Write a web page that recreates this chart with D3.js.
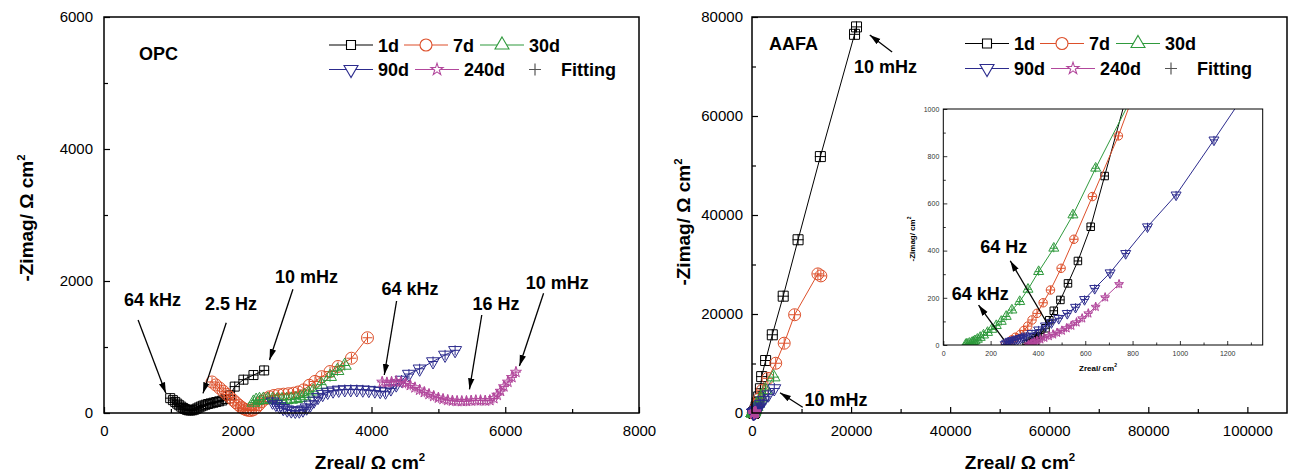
<!DOCTYPE html>
<html><head><meta charset="utf-8">
<script src="https://cdn.jsdelivr.net/npm/d3@7"></script>
<style>
body{margin:0;background:#fff}
svg text{font-family:"Liberation Sans",Arial,sans-serif}
</style></head><body>
<svg id="chart" width="1291" height="473"></svg>
<script>
// ---------- Nyquist data, [Zreal, -Zimag] in Ω·cm² ----------
// OPC
const opc1d = [[990,225],[1030,195],[1065,168],[1095,142],[1125,118],[1155,96],[1185,76],[1212,60],[1240,48],[1268,40],[1296,38],[1325,42],[1355,52],[1385,66],[1415,82],[1448,98],[1482,112],[1518,125],[1556,136],[1595,146],[1636,156],[1678,166],[1722,177],[1768,190],[1820,212],[1885,268],[1955,400],[2085,505],[2235,575],[2395,645]];
const opc7d = [[1615,470],[1672,425],[1728,378],[1782,330],[1835,283],[1885,238],[1932,195],[1975,155],[2015,120],[2052,90],[2088,66],[2122,50],[2158,40],[2195,38],[2232,48],[2272,78],[2315,125],[2362,175],[2415,215],[2475,245],[2540,265],[2610,278],[2685,285],[2760,292],[2835,300],[2905,318],[2985,350],[3070,420],[3155,478],[3255,550],[3380,628],[3500,705],[3700,830],[3940,1140]];
const opc30d = [[2235,160],[2275,188],[2325,200],[2385,205],[2450,205],[2520,200],[2590,197],[2660,197],[2730,200],[2800,206],[2870,215],[2935,232],[2995,258],[3060,292],[3130,330],[3250,430],[3380,550],[3490,640],[3600,720]];
const opc90d = [[2520,170],[2570,135],[2625,100],[2680,72],[2740,50],[2800,36],[2860,30],[2920,34],[2975,50],[3030,80],[3085,125],[3140,185],[3200,240],[3270,285],[3345,318],[3425,338],[3510,350],[3600,356],[3690,358],[3780,356],[3870,352],[3960,346],[4050,338],[4130,330],[4210,322],[4290,370],[4370,430],[4450,500],[4560,590],[4720,670],[4920,780],[5100,880],[5250,950]];
const opc240d = [[4160,470],[4230,460],[4300,470],[4370,480],[4440,470],[4510,450],[4580,420],[4650,385],[4720,350],[4790,315],[4860,285],[4930,255],[5000,230],[5070,210],[5140,195],[5210,185],[5280,180],[5350,178],[5420,180],[5490,185],[5560,190],[5630,190],[5700,185],[5770,192],[5830,222],[5880,272],[5930,332],[5980,400],[6040,470],[6100,540],[6160,620]];

// AAFA
const aafa1d = [[352,3],[360,8],[368,14],[378,20],[390,28],[400,38],[410,49],[432,71],[448,105],[467,145],[495,191],[527,261],[569,356],[623,501],[682,716],[830,1260],[1050,2050],[1350,3250],[1700,4900],[1950,7350],[2750,10600],[4100,15800],[6300,23600],[9300,35000],[13800,51800],[20700,76500],[21100,78000]];
const aafa7d = [[262,2],[275,10],[290,22],[305,33],[326,45],[340,61],[357,80],[375,106],[396,134],[422,179],[453,233],[498,325],[552,448],[630,629],[740,886],[1020,1650],[1450,2900],[2100,4600],[3200,7000],[4790,10050],[6500,14100],[8600,19850],[13300,28100],[13900,27700]];
const aafa30d = [[95,2],[100,4],[110,7],[120,10],[127,14],[134,18],[144,24],[156,32],[170,42],[187,53],[205,66],[224,82],[245,100],[266,121],[290,148],[323,184],[358,236],[403,311],[467,410],[548,551],[644,749],[900,1250],[1250,1950],[1800,3000],[2700,4650],[4350,7250]];
const aafa90d = [[262,2],[268,8],[275,12],[283,16],[293,19],[304,22],[315,25],[326,28],[338,33],[351,38],[375,49],[403,64],[432,81],[457,95],[488,113],[524,134],[559,160],[597,193],[640,240],[705,306],[771,388],[863,501],[984,636],[1144,869],[1400,1250],[1800,1800],[2400,2600],[3300,3700],[4500,4950]];
const aafa240d = [[360,2],[368,4],[375,7],[385,13],[396,18],[410,24],[427,31],[446,38],[464,45],[481,52],[501,61],[521,71],[541,82],[563,96],[587,113],[613,134],[644,162],[684,202],[743,258]];

const seriesNames  = ["1d","7d","30d","90d","240d"];
const seriesColors = ["#000000","#dd4f2a","#2f9a3d","#2c2b8d","#b2479c"];
const seriesShapes = ["square","circle","triangle","triangleDown","star"];
const opcSeries  = [opc1d, opc7d, opc30d, opc90d, opc240d];
const aafaSeries = [aafa1d, aafa7d, aafa30d, aafa90d, aafa240d];

// axis ticks
const opcMajor = [0,2000,4000,6000,8000];
const opcMinorX = [1000,3000,5000,7000];
const opcMajorY = [0,2000,4000,6000];
const opcMinorY = [1000,3000,5000];
const aafaMajorX = [0,20000,40000,60000,80000,100000];
const aafaMinorX = [10000,30000,50000,70000,90000];
const aafaMajorY = [0,20000,40000,60000,80000];
const aafaMinorY = [10000,30000,50000,70000];
const insetMajorX = [0,200,400,600,800,1000,1200];
const insetMinorX = [100,300,500,700,900,1100,1300];
const insetMajorY = [0,200,400,600,800,1000];
const insetMinorY = [100,300,500,700,900];

// frequency callouts: text anchor + arrow (tail -> head), in data units
const opcNotes = [
  {text:"64 kHz", at:[299,1614],  from:[510,1409],  to:[925,298]},
  {text:"2.5 Hz", at:[1510,1561], from:[1828,1368], to:[1480,298]},
  {text:"10 mHz", at:[2556,1967], from:[2825,1874], to:[2475,803]},
  {text:"64 kHz", at:[4148,1791], from:[4375,1697], to:[4191,576]},
  {text:"16 Hz",  at:[5510,1564], from:[5649,1485], to:[5465,359]},
  {text:"10 mHz", at:[6308,1876], from:[6573,1814], to:[6212,712]}
];
const aafaNotes = [
  {text:"10 mHz", at:[20606,68586], from:[28283,72929], to:[23778,76364]},
  {text:"10 mHz", at:[10606,1515],  from:[10242,1152],  to:[5657,4101]}
];
const insetNotes = [
  {text:"64 Hz",  at:[156,389], from:[439,92], to:[283,357]},
  {text:"64 kHz", at:[36,192],  from:[255,24], to:[149,169]}
];

// ---------- scales ----------
const opcX = d3.scaleLinear().domain([0,8000]).range([104,639]);
const opcY = d3.scaleLinear().domain([0,6000]).range([413,17]);
const aX = d3.scaleLinear().domain([0,108000]).range([752,1287]);
const aY = d3.scaleLinear().domain([0,80000]).range([413,17]);
const inX = d3.scaleLinear().domain([0,1350]).range([943.3,1262.7]);
const inY = d3.scaleLinear().domain([0,1000]).range([345,109]);

const svg = d3.select("#chart");
const defs = svg.append("defs");
defs.append("marker").attr("id","arrowhead").attr("markerUnits","userSpaceOnUse")
  .attr("markerWidth",11).attr("markerHeight",8).attr("refX",11).attr("refY",4)
  .attr("orient","auto")
  .append("path").attr("d","M0,0.8L11,4L0,7.2Z").attr("fill","#000");

function symbolPath(shape, s){
  if (shape==="square") return d3.symbol(d3.symbolSquare, s*s)();
  if (shape==="circle") return d3.symbol(d3.symbolCircle, Math.PI*s*s/4)();
  if (shape==="triangle" || shape==="triangleDown") return d3.symbol(d3.symbolTriangle, Math.sqrt(3)/4*s*s)();
  const r = s/1.9; return d3.symbol(d3.symbolStar, r*r/0.8908)();
}
function crossPath(s){ const h=s/2; return `M${-h},0H${h}M0,${-h}V${h}`; }

function drawSeries(g, data, xs, ys, color, shape, size, cross){
  const line = d3.line().x(d=>xs(d[0])).y(d=>ys(d[1]));
  g.append("path").attr("d", line(data)).attr("fill","none")
    .attr("stroke", color).attr("stroke-width",1);
  const p = symbolPath(shape, size);
  g.selectAll(null).data(data).join("path")
    .attr("transform", d=>`translate(${xs(d[0])},${ys(d[1])})${shape==="triangleDown"?" rotate(180)":""}`)
    .attr("d", p).attr("fill","none").attr("stroke", color).attr("stroke-width",1);
  // fitted impedance
  g.selectAll(null).data(data).join("path")
    .attr("transform", d=>`translate(${xs(d[0])},${ys(d[1])})`)
    .attr("d", crossPath(cross)).attr("fill","none").attr("stroke", color).attr("stroke-width",1);
}

function drawAxes(g, xs, ys, o){
  const y0 = ys.range()[0], x0 = xs.range()[0];
  const bx = g.append("g").attr("transform",`translate(0,${y0})`);
  bx.call(d3.axisBottom(xs).tickValues(o.xMajor).tickSizeInner(-o.major).tickSizeOuter(0)
      .tickPadding(o.xPad).tickFormat(d3.format("d")));
  bx.append("g").call(d3.axisBottom(xs).tickValues(o.xMinor).tickSizeInner(-o.minor).tickSizeOuter(0).tickFormat(""));
  const ly = g.append("g").attr("transform",`translate(${x0},0)`);
  ly.call(d3.axisLeft(ys).tickValues(o.yMajor).tickSizeInner(-o.major).tickSizeOuter(0)
      .tickPadding(o.yPad).tickFormat(d3.format("d")));
  ly.append("g").call(d3.axisLeft(ys).tickValues(o.yMinor).tickSizeInner(-o.minor).tickSizeOuter(0).tickFormat(""));
  g.selectAll(".domain").remove();
  g.selectAll(".tick line").attr("stroke","#000").attr("stroke-width",o.tickW);
  g.selectAll(".tick text").attr("font-size",o.font).attr("fill",o.color)
    .attr("font-family","Liberation Sans, Arial, sans-serif");
}

function frame(g, xs, ys, w){
  const [xa,xb]=xs.range(), [ya,yb]=ys.range();
  g.append("rect").attr("x",xa).attr("y",yb).attr("width",xb-xa).attr("height",ya-yb)
    .attr("fill","none").attr("stroke","#000").attr("stroke-width",w);
}

function notes(g, list, xs, ys, size){
  list.forEach(n=>{
    g.append("line").attr("x1",xs(n.from[0])).attr("y1",ys(n.from[1]))
      .attr("x2",xs(n.to[0])).attr("y2",ys(n.to[1]))
      .attr("stroke","#000").attr("stroke-width",1.3).attr("marker-end","url(#arrowhead)");
    g.append("text").attr("x",xs(n.at[0])).attr("y",ys(n.at[1]))
      .attr("font-size",size).attr("font-weight","bold").text(n.text);
  });
}

function legend(g, x0, r1, r2, sz){
  const rows = [[0,r1,0,0],[1,r1,75,0],[2,r1,151,0],[3,r2,0,0],[4,r2,86,0]];
  const msize = [9,12,14,14,12];
  rows.forEach(([i,y,dx])=>{
    const lx = x0+dx;
    g.append("line").attr("x1",lx).attr("x2",lx+44).attr("y1",y).attr("y2",y)
      .attr("stroke",seriesColors[i]).attr("stroke-width",1.2);
    g.append("path").attr("d",symbolPath(seriesShapes[i],msize[i]))
      .attr("transform",`translate(${lx+22},${y})${seriesShapes[i]==="triangleDown"?" rotate(180)":""}`)
      .attr("fill","#fff").attr("stroke",seriesColors[i]).attr("stroke-width",1.1);
    g.append("text").attr("x",lx+49).attr("y",y+6.5).attr("font-size",sz)
      .attr("font-weight","bold").text(seriesNames[i]);
  });
  g.append("path").attr("d",crossPath(12)).attr("transform",`translate(${x0+206},${r2})`)
    .attr("stroke","#555").attr("stroke-width",1.2).attr("fill","none");
  g.append("text").attr("x",x0+232).attr("y",r2+6.5).attr("font-size",sz)
    .attr("font-weight","bold").text("Fitting");
}

function xTitle(g, cx, y, sz){
  const t = g.append("text").attr("x",cx).attr("y",y).attr("text-anchor","middle")
    .attr("font-size",sz).attr("font-weight","bold");
  t.append("tspan").text("Zreal/ Ω cm");
  t.append("tspan").attr("dy",-8).attr("font-size",sz*0.6).text("2");
}
function yTitle(g, x, cy, sz){
  const t = g.append("text").attr("transform",`translate(${x},${cy}) rotate(-90)`)
    .attr("text-anchor","middle").attr("font-size",sz).attr("font-weight","bold");
  t.append("tspan").text("-Zimag/ Ω cm");
  t.append("tspan").attr("dy",-8).attr("font-size",sz*0.6).text("2");
}

// ---------- OPC panel ----------
const gL = svg.append("g");
drawAxes(gL, opcX, opcY, {xMajor:opcMajor, xMinor:opcMinorX, yMajor:opcMajorY, yMinor:opcMinorY,
  major:6, minor:4, xPad:12, yPad:11, font:15, color:"#000", tickW:1.2});
opcSeries.forEach((d,i)=>drawSeries(gL, d, opcX, opcY, seriesColors[i], seriesShapes[i],
  [9,12,13,13,11][i], 10));
frame(gL, opcX, opcY, 1.5);
gL.append("text").attr("x",opcX(523)).attr("y",opcY(5356)).attr("font-size",18)
  .attr("font-weight","bold").text("OPC");
notes(gL, opcNotes, opcX, opcY, 18);
legend(gL, 329, 45, 69.5, 18);
xTitle(gL, 370, 469, 19);
yTitle(gL, 32.5, 218, 19);

// ---------- AAFA panel ----------
const gR = svg.append("g");
drawAxes(gR, aX, aY, {xMajor:aafaMajorX, xMinor:aafaMinorX, yMajor:aafaMajorY, yMinor:aafaMinorY,
  major:6, minor:4, xPad:12, yPad:9, font:15, color:"#000", tickW:1.2});
aafaSeries.forEach((d,i)=>drawSeries(gR, d, aX, aY, seriesColors[i], seriesShapes[i],
  [10,12,13,13,11][i], 11));
frame(gR, aX, aY, 1.5);
gR.append("text").attr("x",aX(3434)).attr("y",aY(73374)).attr("font-size",18)
  .attr("font-weight","bold").text("AAFA");
notes(gR, aafaNotes, aX, aY, 18);
legend(gR, 965, 43.5, 68.5, 18);
xTitle(gR, 1020, 469, 19);
yTitle(gR, 690, 222, 19);

// ---------- inset: low-impedance region of AAFA ----------
const gI = svg.append("g");
gI.append("rect").attr("x",inX(0)).attr("y",inY(1000)).attr("width",inX(1350)-inX(0))
  .attr("height",inY(0)-inY(1000)).attr("fill","#fff");
drawAxes(gI, inX, inY, {xMajor:insetMajorX, xMinor:insetMinorX, yMajor:insetMajorY, yMinor:insetMinorY,
  major:4, minor:2.5, xPad:6, yPad:4, font:7, color:"#333", tickW:0.8});
defs.append("clipPath").attr("id","insetClip").append("rect")
  .attr("x",inX(0)).attr("y",inY(1000)).attr("width",inX(1350)-inX(0)).attr("height",inY(0)-inY(1000));
const gIc = gI.append("g").attr("clip-path","url(#insetClip)");
aafaSeries.forEach((d,i)=>drawSeries(gIc, d, inX, inY, seriesColors[i], seriesShapes[i],
  [7.5,8.5,10,10,9][i], 8));
frame(gI, inX, inY, 1);
notes(gI, insetNotes, inX, inY, 18);
const ixt = gI.append("text").attr("x",1098).attr("y",371).attr("text-anchor","middle")
  .attr("font-size",8).attr("font-weight","bold");
ixt.append("tspan").text("Zreal/      cm");
ixt.append("tspan").attr("dy",-4).attr("font-size",5).text("2");
const iyt = gI.append("text").attr("transform","translate(915,239) rotate(-90)")
  .attr("text-anchor","middle").attr("font-size",8).attr("font-weight","bold");
iyt.append("tspan").text("-Zimag/      cm");
iyt.append("tspan").attr("dy",-4).attr("font-size",5).text("2");
</script>
</body></html>
